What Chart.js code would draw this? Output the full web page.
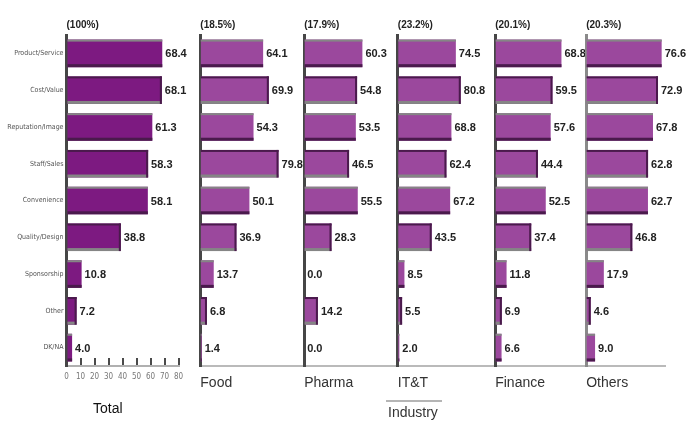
<!DOCTYPE html>
<html>
<head>
<meta charset="utf-8">
<script src="https://cdn.jsdelivr.net/npm/chart.js@4.4.1/dist/chart.umd.min.js"></script>
<style>
  html, body { margin: 0; padding: 0; background: #fff; }
  #wrap { position: relative; width: 698px; height: 423px; overflow: hidden; }
  #wrap canvas { position: absolute; left: 0; top: 0; }
  .lbl { position: absolute; font-family: "Liberation Sans", Arial, sans-serif; font-size: 14px; line-height: 16px; white-space: nowrap; }
  .bracket { position: absolute; height: 2px; background: #b5b5b5; }
</style>
</head>
<body>
<div id="wrap">
  <canvas id="p0" width="698" height="423"></canvas>
  <canvas id="p1" width="698" height="423"></canvas>
  <canvas id="p2" width="698" height="423"></canvas>
  <canvas id="p3" width="698" height="423"></canvas>
  <canvas id="p4" width="698" height="423"></canvas>
  <canvas id="p5" width="698" height="423"></canvas>
  <div class="lbl" id="totalName" style="left:93px;top:400px;color:#111;"></div>
  <div class="bracket" style="left:386px;top:400px;width:56px;"></div>
  <div class="lbl" id="groupName" style="left:388px;top:404px;color:#333;"></div>
</div>
<script>
// Reasons, top to bottom
const categories = [
  "Product/Service", "Cost/Value", "Reputation/Image", "Staff/Sales",
  "Convenience", "Quality/Design", "Sponsorship", "Other", "DK/NA"
];

// Segment names and their share of respondents
const segments = ["Total", "Food", "Pharma", "IT&T", "Finance", "Others"];
const shares = ["(100%)", "(18.5%)", "(17.9%)", "(23.2%)", "(20.1%)", "(20.3%)"];
const groupLabel = "Industry";

// Percent values per segment
const total   = [68.4, 68.1, 61.3, 58.3, 58.1, 38.8, 10.8, 7.2, 4.0];
const food    = [64.1, 69.9, 54.3, 79.8, 50.1, 36.9, 13.7, 6.8, 1.4];
const pharma  = [60.3, 54.8, 53.5, 46.5, 55.5, 28.3, 0.0, 14.2, 0.0];
const itt     = [74.5, 80.8, 68.8, 62.4, 67.2, 43.5, 8.5, 5.5, 2.0];
const finance = [68.8, 59.5, 57.6, 44.4, 52.5, 37.4, 11.8, 6.9, 6.6];
const others  = [76.6, 72.9, 67.8, 62.8, 62.7, 46.8, 17.9, 4.6, 9.0];

// Tick labels of the Total value axis
const totalTicks = [0, 10, 20, 30, 40, 50, 60, 70, 80];

document.getElementById('totalName').textContent = segments[0];
document.getElementById('groupName').textContent = groupLabel;

const W = 698, H = 423;
const AXIS_H = 57;   // room under the plot for the value axis / panel names

// Panel placement: plot left/right edges and value-axis maximum
const panels = [
  { values: total,   left: 66.5,  right: 178.5, max: 80,  bar: '#7d1a81', axis: '#464646' },
  { values: food,    left: 200.3, right: 304.2, max: 106, bar: '#9b489d', axis: '#464646' },
  { values: pharma,  left: 304.2, right: 397.8, max: 97,  bar: '#9b489d', axis: '#464646' },
  { values: itt,     left: 397.8, right: 495.2, max: 125, bar: '#9b489d', axis: '#464646' },
  { values: finance, left: 495.2, right: 586.2, max: 94.5, bar: '#9b489d', axis: '#464646' },
  { values: others,  left: 586.2, right: 665,   max: 80,  bar: '#9b489d', axis: '#8a8a8a' }
];

// Shaded top/bottom edges on each bar (bevel look)
const barEdges = {
  id: 'barEdges',
  afterDatasetsDraw(chart) {
    const ctx = chart.ctx;
    const meta = chart.getDatasetMeta(0);
    meta.data.forEach((el, i) => {
      const p = el.getProps(['x', 'y', 'base', 'height'], true);
      const x0 = Math.min(p.x, p.base);
      const w = Math.abs(p.x - p.base);
      if (w < 0.5) return;
      const top = p.y - p.height / 2;
      const bot = p.y + p.height / 2;
      const grey = '#858585', dark = '#4a1a4c';
      ctx.save();
      if (i % 2 === 0) {
        ctx.fillStyle = grey; ctx.fillRect(x0, top, w, 2);
        ctx.fillStyle = dark; ctx.fillRect(x0, bot - 3, w, 3);
      } else {
        ctx.fillStyle = dark; ctx.fillRect(x0, top, w, 2);
        ctx.fillStyle = grey; ctx.fillRect(x0, bot - 3, w, 3);
        ctx.fillStyle = dark; ctx.fillRect(x0 + w - 2, top, 2, p.height);
      }
      ctx.restore();
    });
  }
};

// Value printed just past the end of each bar
const valueLabels = {
  id: 'valueLabels',
  afterDatasetsDraw(chart) {
    const ctx = chart.ctx;
    const ds = chart.data.datasets[0];
    const meta = chart.getDatasetMeta(0);
    ctx.save();
    ctx.font = 'bold 11px "Liberation Sans", Arial, sans-serif';
    ctx.fillStyle = '#222';
    ctx.textAlign = 'left';
    ctx.textBaseline = 'middle';
    meta.data.forEach((el, i) => {
      const p = el.getProps(['x', 'y'], true);
      ctx.fillText(ds.data[i].toFixed(1), p.x + 3, p.y + 1);
    });
    ctx.restore();
  }
};

panels.forEach((pn, idx) => {
  const isTotal = idx === 0;
  const yAxis = {
    type: 'category',
    grid: { display: true, drawOnChartArea: false, drawTicks: false },
    border: { display: true, color: pn.axis, width: 3 },
    ticks: isTotal
      ? { display: true, padding: 3, color: '#555',
          font: { family: '"Liberation Sans Narrow", "DejaVu Sans Condensed", sans-serif', size: 7 } }
      : { display: false },
    afterFit(s) { s.width = isTotal ? pn.left : 0; }
  };
  const xAxis = isTotal ? {
    type: 'linear', min: 0, max: pn.max,
    afterBuildTicks(s) { s.ticks = totalTicks.map(v => ({ value: v })); },
    grid: { display: true, drawOnChartArea: false, drawTicks: true, tickLength: -8,
            color: '#4a4a4a', lineWidth: 2 },
    border: { display: true, color: '#b0b0b0', width: 2 },
    ticks: { padding: 14, color: '#777', maxRotation: 0, autoSkip: false,
             font: { family: '"Liberation Sans Narrow", "DejaVu Sans Condensed", sans-serif', size: 8 } },
    afterFit(s) { s.height = AXIS_H; }
  } : {
    type: 'linear', min: 0, max: pn.max,
    grid: { display: true, drawOnChartArea: false, drawTicks: false },
    border: { display: true, color: '#bababa', width: 2 },
    ticks: { display: false },
    title: { display: true, text: segments[idx], align: 'start', color: '#333',
             font: { family: '"Liberation Sans", Arial, sans-serif', size: 14 },
             padding: { top: 0, bottom: 31 } },
    afterFit(s) { s.height = AXIS_H; }
  };

  new Chart(document.getElementById('p' + idx), {
    type: 'bar',
    data: {
      labels: categories,
      datasets: [{
        data: pn.values,
        backgroundColor: pn.bar,
        borderWidth: 0,
        categoryPercentage: 1.0,
        barPercentage: 0.75
      }]
    },
    options: {
      indexAxis: 'y',
      responsive: false,
      devicePixelRatio: 1,
      animation: false,
      layout: { padding: { left: isTotal ? 0 : pn.left, right: W - pn.right, top: 0, bottom: 0 } },
      scales: { x: xAxis, y: yAxis },
      plugins: {
        legend: { display: false },
        tooltip: { enabled: false },
        title: {
          display: true, text: shares[idx], align: 'start', fullSize: false,
          color: '#222', padding: { top: 19, bottom: 4 },
          font: { family: '"Liberation Sans", Arial, sans-serif', size: 10, weight: 'bold', lineHeight: 1.2 }
        }
      }
    },
    plugins: [barEdges, valueLabels]
  });
});
</script>
</body>
</html>
